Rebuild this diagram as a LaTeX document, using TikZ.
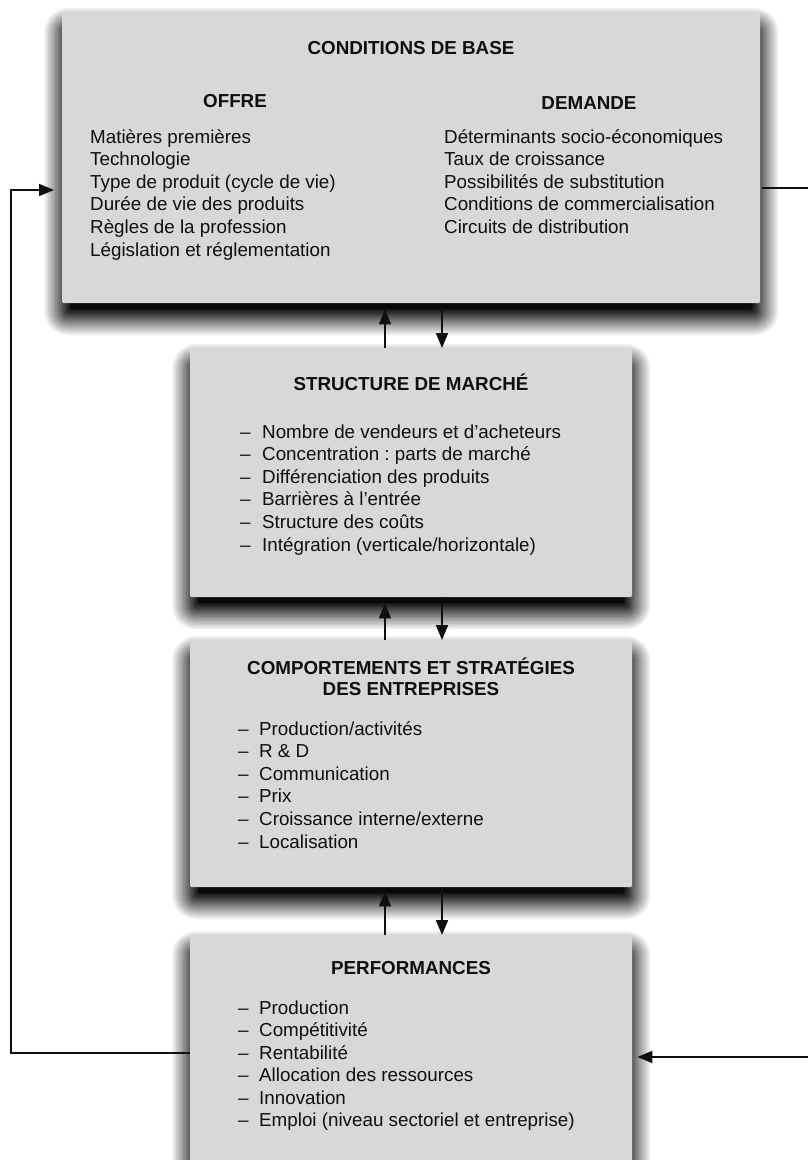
\documentclass[tikz,border=0pt]{standalone}
\usepackage{fontspec}
\setmainfont{Liberation Sans}
\frenchspacing
\usetikzlibrary{arrows.meta,calc,backgrounds}
\definecolor{boxgray}{RGB}{216,216,216}
\definecolor{ink}{RGB}{15,15,15}
\tikzset{
  panel/.style={fill=boxgray, draw=none, rounded corners=1.5pt, inner sep=0pt, anchor=north west},
  txt/.style={inner sep=0pt, anchor=base west, text=ink, font=\fontsize{18.8}{22.6}\selectfont},
  ttl/.style={inner sep=0pt, anchor=base, text=ink, font=\bfseries\fontsize{18.8}{22.6}\selectfont},
  link/.style={draw=ink, line width=1.9pt},
  arr/.style={link, -{Triangle[length=15pt,width=12pt]}},
}
% soft drop shadow: stacked rectangles whose opacities give a linear ramp
\newcommand\blurshadow[1]{%
  \begin{pgfonlayer}{background}
  \foreach \j in {1,...,20}{%
    \pgfmathsetmacro\A{0.97*\j/20}%
    \pgfmathsetmacro\Ap{0.97*(\j-1)/20}%
    \pgfmathsetmacro\op{1-(1-\A)/(1-\Ap)}%
    \pgfmathsetmacro\ee{18-1.4*(\j-1)}%
    \pgfmathsetmacro\rr{max(2,\ee+6)}%
    \fill[black, opacity=\op, rounded corners=\rr pt]
      ($(#1.north west)+({-\ee},{14-\ee})$) rectangle ($(#1.south east)+({\ee},{14+\ee})$);
  }
  \end{pgfonlayer}}
\begin{document}
\begin{tikzpicture}[x=1pt,y=-1pt]
\useasboundingbox (0,0) rectangle (808,1160);
\clip (0,0) rectangle (808,1160);

% boxes
\node[panel, minimum width=698pt, minimum height=291pt] (cb) at (62,12) {};
\node[panel, minimum width=442pt, minimum height=249pt] (sm) at (190,348) {};
\node[panel, minimum width=442pt, minimum height=247pt] (cm) at (190,640) {};
\node[panel, minimum width=442pt, minimum height=275pt] (pf) at (190,935) {};
\blurshadow{cb}
\blurshadow{sm}
\blurshadow{cm}
\blurshadow{pf}

% Conditions de base
\node[ttl] (cbt) at (411,54) {CONDITIONS DE BASE};
\node[ttl] (off) at (235,107) {OFFRE};
\node[ttl] (dem) at (589,109) {DEMANDE};
\foreach \t [count=\i] in {Matières premières, Technologie, Type de produit (cycle de vie),
  Durée de vie des produits, Règles de la profession, Législation et réglementation}
  \node[txt] (o\i) at (90,{143+22.6*(\i-1)}) {\t};
\foreach \t [count=\i] in {Déterminants socio-économiques, Taux de croissance,
  Possibilités de substitution, Conditions de commercialisation, Circuits de distribution}
  \node[txt] (d\i) at (444,{143+22.6*(\i-1)}) {\t};

% Structure de marche
\node[ttl] (smt) at (411,390) {STRUCTURE DE MARCHÉ};
\foreach \t [count=\i] in {Nombre de vendeurs et d’acheteurs, Concentration : parts de marché,
  Différenciation des produits, Barrières à l’entrée, Structure des coûts,
  Intégration (verticale/horizontale)}
  \node[txt] (s\i) at (240,{438+22.6*(\i-1)}) {\makebox[22pt][l]{–}\t};

% Comportements
\node[ttl] (cmt1) at (411,674) {COMPORTEMENTS ET STRATÉGIES};
\node[ttl] (cmt2) at (411,695) {DES ENTREPRISES};
\foreach \t [count=\i] in {Production/activités, R \& D, Communication, Prix,
  Croissance interne/externe, Localisation}
  \node[txt] (c\i) at (238,{735+22.6*(\i-1)}) {\makebox[21pt][l]{–}\t};

% Performances
\node[ttl] (pft) at (411,974) {PERFORMANCES};
\foreach \t [count=\i] in {Production, Compétitivité, Rentabilité, Allocation des ressources,
  Innovation, Emploi (niveau sectoriel et entreprise)}
  \node[txt] (p\i) at (238,{1014+22.5*(\i-1)}) {\makebox[21pt][l]{–}\t};

% vertical arrows
\coordinate (ux) at (385,0);
\coordinate (dx) at (442,0);
\draw[arr, shorten >=6pt] (sm.north -| ux) -- (cb.south -| ux);
\draw[arr, shorten <=4pt] (cb.south -| dx) -- (sm.north -| dx);
\draw[arr, shorten >=6pt] (cm.north -| ux) -- (sm.south -| ux);
\draw[arr] (sm.south -| dx) -- (cm.north -| dx);
\draw[arr, shorten >=4pt] (pf.north -| ux) -- (cm.south -| ux);
\draw[arr] (cm.south -| dx) -- (pf.north -| dx);

% feedback loops
\coordinate (loopL) at (11,1053);
\coordinate (loopT) at (11,190);
\coordinate (rightB) at (808,1057);
\coordinate (rightT) at (808,188);
\draw[arr, shorten >=8pt] (pf.west |- loopL) -- (loopL) -- (loopT) -- (cb.west |- loopT);
\draw[arr, shorten >=5pt] (rightB) -- (pf.east |- rightB);
\draw[link, shorten <=2pt] (cb.east |- rightT) -- (rightT);
\end{tikzpicture}
\end{document}
